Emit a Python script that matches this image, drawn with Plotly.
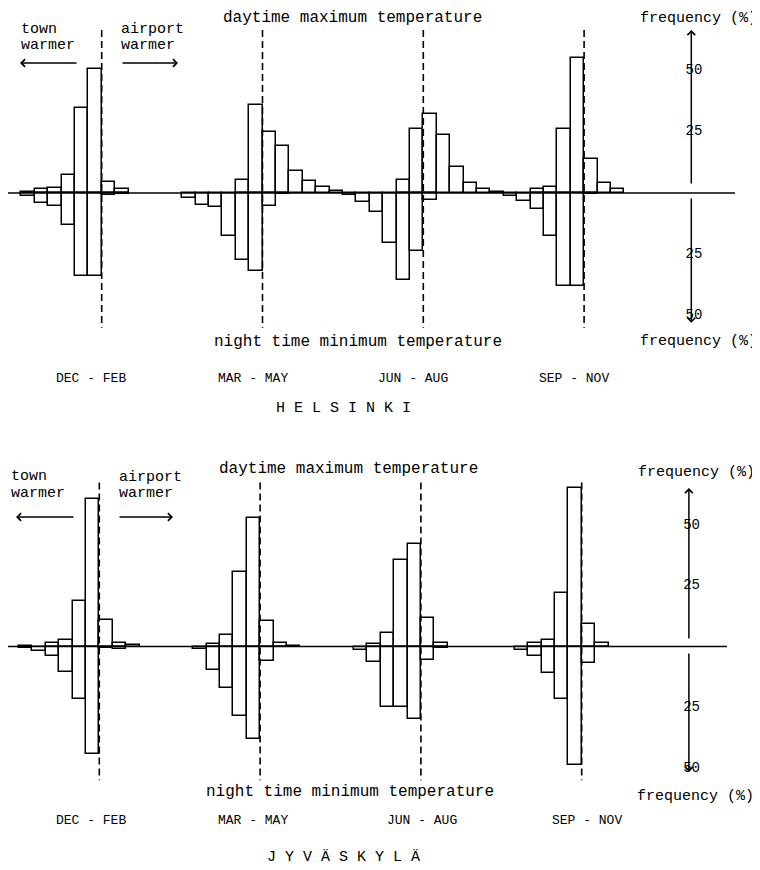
import plotly.graph_objects as go

# ---------------- data ----------------
SEASONS = ["DEC - FEB", "MAR - MAY", "JUN - AUG", "SEP - NOV"]
# temperature-difference bins (airport minus town, 1 degree classes), offset from the zero line
BINS = [-6, -5, -4, -3, -2, -1, 0, 1, 2, 3, 4, 5]
BINS_PER_GROUP = 12

# Helsinki, frequency (%) — daytime maximum (upwards), night time minimum (downwards)
HEL_DAY_DJF = [0.5, 1.6, 2.0, 7.5, 34.7, 50.6, 4.4, 1.5, 0, 0, 0, 0]
HEL_NIGHT_DJF = [1.4, 4.0, 5.4, 13.0, 34.0, 34.0, 1.0, 0.3, 0, 0, 0, 0]
HEL_DAY_MAM = [0, 0, 0, 0, 5.4, 36.0, 25.0, 19.0, 9.0, 4.8, 2.3, 1.0]
HEL_NIGHT_MAM = [2.2, 4.8, 5.7, 17.7, 27.5, 32.0, 5.5, 0.5, 0, 0, 0, 0]
HEL_DAY_JJA = [0, 0, 0, 0, 5.4, 26.0, 32.2, 23.7, 10.5, 4.1, 1.6, 0.5]
HEL_NIGHT_JJA = [1.0, 3.8, 7.9, 20.6, 35.4, 23.5, 2.7, 0, 0, 0, 0, 0]
HEL_DAY_SON = [0, 0, 1.6, 2.5, 26.3, 55.0, 13.7, 4.0, 1.6, 0, 0, 0]
HEL_NIGHT_SON = [1.4, 3.1, 6.4, 17.4, 38.0, 38.0, 0.5, 0, 0, 0, 0, 0]

# Jyväskylä
JYV_DAY_DJF = [0.3, 0, 1.4, 2.7, 18.8, 60.6, 10.8, 1.6, 0.5, 0, 0, 0]
JYV_NIGHT_DJF = [0.7, 2.0, 4.0, 10.4, 21.4, 44.3, 0.7, 1.0, 0, 0, 0, 0]
JYV_DAY_MAM = [0, 0, 1.1, 4.8, 30.6, 53.0, 10.4, 1.4, 0.3, 0, 0, 0]
JYV_NIGHT_MAM = [0, 1.0, 9.5, 17.2, 28.4, 38.0, 5.8, 0.3, 0, 0, 0, 0]
JYV_DAY_JJA = [0, 0, 1.0, 5.5, 35.7, 42.0, 11.7, 1.6, 0, 0, 0, 0]
JYV_NIGHT_JJA = [0, 1.4, 6.5, 25.0, 25.0, 30.0, 5.5, 0.5, 0, 0, 0, 0]
JYV_DAY_SON = [0, 0, 1.4, 2.7, 22.0, 65.4, 9.2, 1.6, 0, 0, 0, 0]
JYV_NIGHT_SON = [0, 1.5, 4.0, 11.0, 21.7, 48.8, 6.6, 0.3, 0, 0, 0, 0]

FREQ_TICKS = [50, 25, -25, -50]
FREQ_TICK_TEXT = ["50", "25", "25", "50"]

HEL_DAY = [HEL_DAY_DJF, HEL_DAY_MAM, HEL_DAY_JJA, HEL_DAY_SON]
HEL_NIGHT = [HEL_NIGHT_DJF, HEL_NIGHT_MAM, HEL_NIGHT_JJA, HEL_NIGHT_SON]
JYV_DAY = [JYV_DAY_DJF, JYV_DAY_MAM, JYV_DAY_JJA, JYV_DAY_SON]
JYV_NIGHT = [JYV_NIGHT_DJF, JYV_NIGHT_MAM, JYV_NIGHT_JJA, JYV_NIGHT_SON]

# ---------------- layout geometry ----------------
# The page body has an 8px default margin, so the figure is drawn 8px smaller
# and all reference pixel positions are shifted by that offset.
OFF = 8
W, H = 760 - OFF, 870 - OFF
BIN_PX = 13.4
FONT = "Liberation Mono, Courier New, monospace"
FREQ_AXIS_X = 44  # in bin units
SPLIT = 435 - OFF  # figure pixel separating the two panels

panels = [
    dict(xa="x", ya="y", xname="xaxis", yname="yaxis", zero_px=101.7, base_px=193.0,
         ppp=2.45, dom_top=0, dom_bot=SPLIT,
         day=HEL_DAY, night=HEL_NIGHT, base_end=47.26, base_start=-7.0,
         dash_top=66.5, dash_bot=-55.0, ax_up=(66.5, 3.3), ax_dn=(-1.6, -53.0)),
    dict(xa="x2", ya="y2", xname="xaxis2", yname="yaxis2", zero_px=99.3, base_px=646.5,
         ppp=2.43, dom_top=SPLIT, dom_bot=H,
         day=JYV_DAY, night=JYV_NIGHT, base_end=46.84, base_start=-6.81,
         dash_top=67.5, dash_bot=-55.0, ax_up=(65.2, 2.7), ax_dn=(-2.3, -51.6)),
]

fig = go.Figure()
annotations = []
line_style = dict(color="black", width=1.5)

for p in panels:
    xa, ya = p["xa"], p["ya"]
    for gi in range(len(SEASONS)):
        g0 = gi * BINS_PER_GROUP
        xs = [g0 + b + 0.5 for b in BINS]
        for vals, sign in ((p["day"][gi], 1), (p["night"][gi], -1)):
            bx = [x for x, v in zip(xs, vals) if v > 0]
            by = [sign * v for v in vals if v > 0]
            fig.add_trace(go.Bar(
                x=bx, y=by, width=1.0, base=0, xaxis=xa, yaxis=ya,
                marker=dict(color="rgba(0,0,0,0)", line=line_style),
                showlegend=False, hoverinfo="skip"))
        # zero-difference dashed line
        fig.add_trace(go.Scatter(
            x=[g0, g0], y=[p["dash_top"], p["dash_bot"]], mode="lines",
            xaxis=xa, yaxis=ya, line=dict(color="black", width=1.6, dash="7px,4px"),
            showlegend=False, hoverinfo="skip"))
    # baseline
    fig.add_trace(go.Scatter(
        x=[p["base_start"], p["base_end"]], y=[0, 0], mode="lines",
        xaxis=xa, yaxis=ya, line=dict(color="black", width=1.3),
        showlegend=False, hoverinfo="skip"))
    # frequency scale labels
    fig.add_trace(go.Scatter(
        x=[FREQ_AXIS_X + 0.2] * len(FREQ_TICKS), y=FREQ_TICKS, mode="text",
        text=FREQ_TICK_TEXT, textfont=dict(family=FONT, size=14, color="black"),
        xaxis=xa, yaxis=ya, showlegend=False, hoverinfo="skip"))
    # frequency axis arrows
    for tip, tail in ((p["ax_up"][0], p["ax_up"][1]), (p["ax_dn"][1], p["ax_dn"][0])):
        annotations.append(dict(
            x=FREQ_AXIS_X, y=tip, ax=FREQ_AXIS_X, ay=tail, xref=xa, yref=ya,
            axref=xa, ayref=ya, text="", showarrow=True, arrowhead=4,
            arrowsize=1.0, arrowwidth=1.5, arrowcolor="black", standoff=0))

    # axes (reference pixels -> figure pixels)
    zero_f = p["zero_px"] - OFF
    base_f = p["base_px"] - OFF
    x_left = -zero_f / BIN_PX
    x_right = (W - zero_f) / BIN_PX
    y_top = (base_f - p["dom_top"]) / p["ppp"]
    y_bot = -(p["dom_bot"] - base_f) / p["ppp"]
    dom = [1 - p["dom_bot"] / H, 1 - p["dom_top"] / H]
    axis_common = dict(visible=False, showgrid=False, zeroline=False, fixedrange=True)
    fig.layout[p["xname"]] = dict(range=[x_left, x_right], domain=[0, 1], anchor=ya, **axis_common)
    fig.layout[p["yname"]] = dict(range=[y_bot, y_top], domain=dom, anchor=xa, **axis_common)


def txt(text, xpx, ypx, size, xanchor="center"):
    annotations.append(dict(
        text=text, x=(xpx - OFF) / W, y=1 - (ypx - OFF) / H, xref="paper", yref="paper",
        xanchor=xanchor, yanchor="middle", showarrow=False,
        font=dict(family=FONT, size=size, color="black")))


def arrow(tipx, tipy, tailx, taily):
    annotations.append(dict(
        text="", x=(tipx - OFF) / W, y=1 - (tipy - OFF) / H, xref="paper", yref="paper",
        ax=tailx - tipx, ay=taily - tipy, showarrow=True, arrowhead=4,
        arrowsize=1.0, arrowwidth=1.5, arrowcolor="black", standoff=0))


# Helsinki texts
txt("town", 19, 30, 15, "left")
txt("warmer", 19, 46, 15, "left")
txt("airport", 119, 30, 15, "left")
txt("warmer", 119, 46, 15, "left")
arrow(20, 63, 78, 63)
arrow(178, 63, 121, 63)
txt("daytime maximum temperature", 352, 18, 16)
txt("frequency (%)", 698, 18, 15)
txt("night time minimum temperature", 358, 342, 16)
txt("frequency (%)", 698, 341, 15)
for s, cx in zip(SEASONS, [91, 253, 413, 574]):
    txt(s, cx, 378, 13)
txt("H E L S I N K I", 343, 408, 15)

# Jyväskylä texts
txt("town", 9, 476, 15, "left")
txt("warmer", 9, 493, 15, "left")
txt("airport", 117, 477, 15, "left")
txt("warmer", 117, 493, 15, "left")
arrow(16, 517, 75, 517)
arrow(173, 517, 118, 517)
txt("daytime maximum temperature", 348, 469, 16)
txt("frequency (%)", 696, 472, 15)
txt("night time minimum temperature", 350, 792, 16)
txt("frequency (%)", 695, 796, 15)
for s, cx in zip(SEASONS, [91, 253, 422, 587]):
    txt(s, cx, 820, 13)
txt("J Y V Ä S K Y L Ä", 343, 857, 15)

fig.update_layout(
    width=W, height=H, margin=dict(l=0, r=0, t=0, b=0),
    paper_bgcolor="white", plot_bgcolor="white",
    barmode="overlay", bargap=0, showlegend=False,
    annotations=annotations,
)

fig.write_html("out.html")
